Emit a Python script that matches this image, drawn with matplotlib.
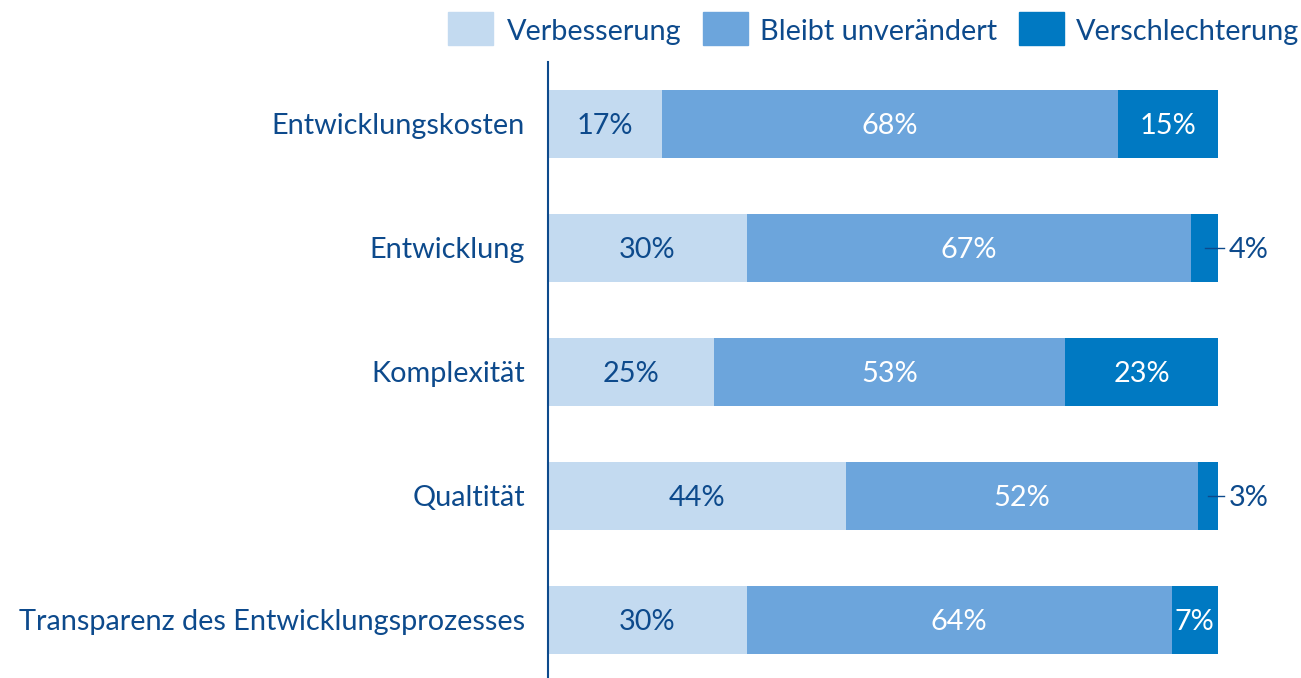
import matplotlib
matplotlib.use("Agg")
import matplotlib.pyplot as plt
from matplotlib.patches import Rectangle
import numpy as np

categories = ["Entwicklungskosten", "Entwicklung", "Komplexität", "Qualtität",
              "Transparenz des Entwicklungsprozesses"]
verbesserung = [17, 30, 25, 44, 30]
unveraendert = [68, 67, 53, 52, 64]
verschlechterung = [15, 4, 23, 3, 7]
series_names = ["Verbesserung", "Bleibt unverändert", "Verschlechterung"]

colors = ["#c3daf0", "#6ca5dc", "#0079c2"]
text_dark = "#0d4a8c"
FONT = "Lato"
FS = 20.8

fig = plt.figure(figsize=(13.01, 6.78), dpi=100)
ax = fig.add_axes([548/1301, 0, 670/1301, (678-62)/678])

series = [verbesserung, unveraendert, verschlechterung]
data = np.array(series, dtype=float)
totals = data.sum(axis=0)
shares = data / totals
y = np.arange(len(categories))
left = np.zeros(len(categories))
for si, (vals, sh) in enumerate(zip(series, shares)):
    ax.barh(y, sh, left=left, height=0.55, color=colors[si], edgecolor="none")
    for i in range(len(categories)):
        cx = left[i] + sh[i] / 2
        tc = text_dark if si == 0 else "white"
        if vals[i] < 5:
            ax.plot([cx, 1.009], [y[i], y[i]], color=text_dark, lw=1, clip_on=False)
            ax.text(1.016, y[i] + 0.02, f"{vals[i]}%", ha="left", va="center",
                    fontsize=FS, color=text_dark, family=FONT, clip_on=False)
        else:
            ax.text(cx, y[i] + 0.02, f"{vals[i]}%", ha="center", va="center",
                    fontsize=FS, color=tc, family=FONT)
    left += sh

ax.set_xlim(0, 1)
ax.set_ylim(4.468, -0.5)
ax.set_yticks(y)
ax.set_yticklabels(categories, fontsize=FS, color=text_dark, family=FONT)
for t in ax.get_yticklabels():
    t.set_y(t.get_position()[1])
ax.tick_params(axis="y", length=0, pad=16.5)
ax.set_xticks([])
for s in ["top", "right", "bottom"]:
    ax.spines[s].set_visible(False)
ax.spines["left"].set_color(text_dark)
ax.spines["left"].set_linewidth(1.5)

# legend
H = 678.0
W = 1301.0
leg = [(448, 507), (703, 760), (1019, 1076)]
for (px, tx), name, c in zip(leg, series_names, colors):
    fig.patches.append(Rectangle((px / W, 1 - 45 / H), 45 / W, 33 / H,
                                 transform=fig.transFigure, color=c, figure=fig))
    fig.text(tx / W, 1 - 32 / H, name, ha="left", va="center", fontsize=FS,
             color=text_dark, family=FONT)

fig.savefig("out.png", dpi=100)
